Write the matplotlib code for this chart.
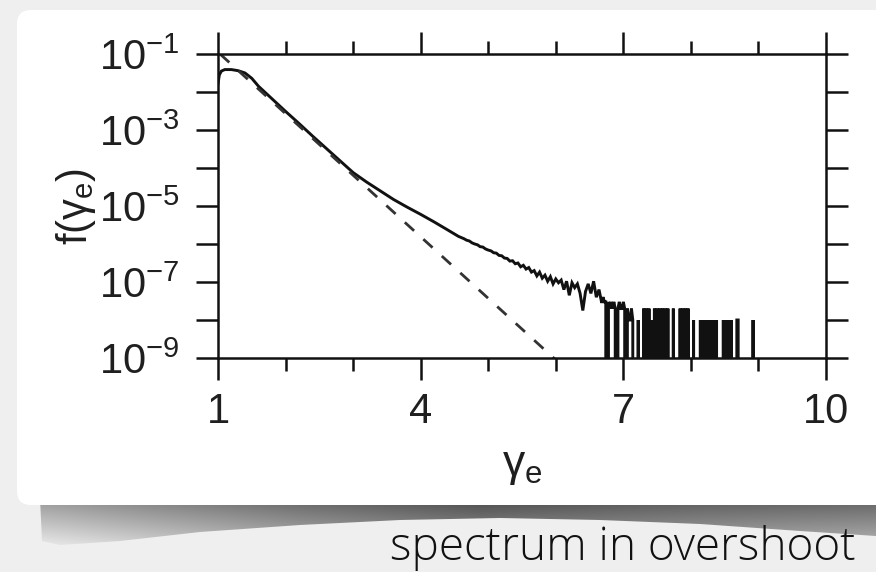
import numpy as np
import matplotlib
matplotlib.use('Agg')
import matplotlib.pyplot as plt
from matplotlib.patches import FancyBboxPatch, Polygon
from matplotlib.ticker import FixedLocator, FuncFormatter, LogLocator, NullLocator

plt.rcParams['font.family'] = ['Liberation Sans', 'DejaVu Sans']
plt.rcParams['mathtext.fontset'] = 'custom'
plt.rcParams['mathtext.rm'] = 'Liberation Sans'
plt.rcParams['mathtext.it'] = 'Liberation Sans'
plt.rcParams['mathtext.bf'] = 'Liberation Sans:bold'
plt.rcParams['path.simplify'] = False

# spectrum near the peak (gamma, log10 f)
peak_gamma = [1.00, 1.02, 1.05, 1.10, 1.20, 1.30, 1.40, 1.50, 1.60, 1.80,
              2.00, 2.20, 2.40, 2.60, 2.80, 3.00, 3.20, 3.40, 3.60, 3.80,
              4.00, 4.20, 4.40, 4.56]
peak_logf = [-1.78, -1.55, -1.45, -1.41, -1.41, -1.44, -1.50, -1.64, -1.85, -2.18,
             -2.51, -2.83, -3.16, -3.48, -3.80, -4.12, -4.37, -4.60, -4.83, -5.03,
             -5.22, -5.42, -5.63, -5.80]

# noisy part, one value every 0.04 from gamma = 4.60
noisy_start, noisy_step = 4.60, 0.04
noisy_logf = [-5.83, -5.86, -5.90, -5.92, -5.97, -6.00, -6.02, -6.07, -6.08, -6.13,
              -6.16, -6.18, -6.23, -6.24, -6.30, -6.31, -6.37, -6.38, -6.45, -6.44,
              -6.52, -6.50, -6.60, -6.56, -6.66, -6.62, -6.74, -6.70, -6.84, -6.74,
              -6.90, -6.82, -6.98, -6.86, -7.05, -6.92, -7.02, -6.95, -7.20, -6.98,
              -7.35, -7.02, -7.15, -7.05, -7.30, -7.75, -7.25, -7.05, -7.30, -6.98,
              -7.40, -7.20, -7.55]

# tail: particle counts every 0.02 from gamma = 6.70, one count = 1e-8
tail_start, tail_step = 6.70, 0.02
count_unit = 1e-8
tail_counts = ("4330323232" "0232232021" "1210001000"
               "2020201020202020202" "00020000" "2020202" "00010000"
               "1010101010101" "0000" "1010101" "000" "11"
               "0000000000" "1" "0000")

# dashed thermal fit
fit_gamma = [1.03, 2.0, 3.0, 4.0, 5.0, 6.0]
fit_logf = [-1.00, -2.57, -4.19, -5.81, -7.43, -9.05]

W, H = 876, 572
fig = plt.figure(figsize=(W / 100, H / 100), dpi=100)
fig.patch.set_facecolor('#efefef')

# paper card with its shadow
bg = fig.add_axes([0, 0, 1, 1], zorder=-1)
bg.set_xlim(0, W)
bg.set_ylim(H, 0)
bg.axis('off')
shadow = Polygon([(40, 498), (876, 498), (876, 536), (800, 531), (700, 524), (600, 520),
                  (500, 518), (400, 520), (300, 525), (200, 532), (120, 541), (60, 545),
                  (42, 541)], closed=True, fc='none', ec='none')
bg.add_patch(shadow)
xs = np.arange(W)
ys = np.arange(H)[:, None]
g = np.interp(xs, [40, 150, 300, 480, 700, 876], [0.66, 0.57, 0.46, 0.36, 0.42, 0.45])[None, :]
g = np.clip(g + (ys - 508) * 0.007, 0, 0.97)
img = bg.imshow(np.dstack([g, g, g]), extent=(0, W, H, 0), aspect='auto', zorder=1)
img.set_clip_path(shadow)
bg.add_patch(FancyBboxPatch((17, 10), 900, 495, boxstyle='round,pad=0,rounding_size=14',
                            fc='white', ec='none', zorder=2))
bg.set_xlim(0, W)
bg.set_ylim(H, 0)

cap = fig.text(856 / W, 1 - 560 / H, 'spectrum in overshoot', ha='right', va='baseline',
               fontsize=28, family=['Open Sans', 'DejaVu Sans'], fontweight='light',
               color='#111111')
# size the caption so it spans about the same width as in the screenshot
fig.canvas.draw()
cap.set_fontsize(28 * 466 / cap.get_window_extent().width)

# the chart
ax = fig.add_axes([218 / W, 1 - 358 / H, 608 / W, 304 / H])
ax.set_facecolor('white')

gamma = np.concatenate([peak_gamma,
                        noisy_start + noisy_step * np.arange(len(noisy_logf)),
                        tail_start + tail_step * np.arange(len(tail_counts))])
f = np.concatenate([10.0 ** np.array(peak_logf),
                    10.0 ** np.array(noisy_logf),
                    np.array([int(c) for c in tail_counts]) * count_unit])

ax.set_yscale('log')
ax.plot(gamma, f, color='#111111', lw=2.1, solid_joinstyle='miter')
ax.plot(fit_gamma, 10.0 ** np.array(fit_logf), color='#333333', lw=2.0,
        linestyle=(0, (4.5, 4.5)))

ax.set_xlim(1, 10)
ax.set_ylim(1e-9, 1e-1)
ax.xaxis.set_major_locator(FixedLocator([1, 4, 7, 10]))
ax.xaxis.set_minor_locator(FixedLocator([2, 3, 5, 6, 8, 9]))
ax.yaxis.set_major_locator(LogLocator(base=10, numticks=20))
ax.yaxis.set_minor_locator(NullLocator())


def ylab(v, pos):
    e = int(round(np.log10(v)))
    return r'$\mathregular{10^{%d}}$' % e if e % 2 else ''


ax.yaxis.set_major_formatter(FuncFormatter(ylab))

for s in ax.spines.values():
    s.set_linewidth(1.8)
    s.set_color('#111111')
ax.tick_params(which='both', direction='out', top=True, right=True, width=1.8,
               color='#111111', labelcolor='#1f1f1f', labelsize=30)
ax.tick_params(axis='y', which='major', length=15.5, pad=12)
ax.tick_params(axis='x', which='major', length=15.5, pad=9)
ax.tick_params(axis='x', which='minor', length=9.5)

ax.set_xlabel(r'$\mathregular{\gamma_e}$', fontsize=32, color='#1f1f1f')
ax.xaxis.label.set_va('baseline')
ax.xaxis.set_label_coords(0.5, (358 - 476) / 304)
ax.set_ylabel(r'$\mathregular{f(\gamma_e)}$', fontsize=30, color='#1f1f1f')
ax.yaxis.label.set_va('baseline')
ax.yaxis.set_label_coords((87 - 218) / 608, 0.5)

fig.savefig('out.png', dpi=100, facecolor=fig.get_facecolor())
